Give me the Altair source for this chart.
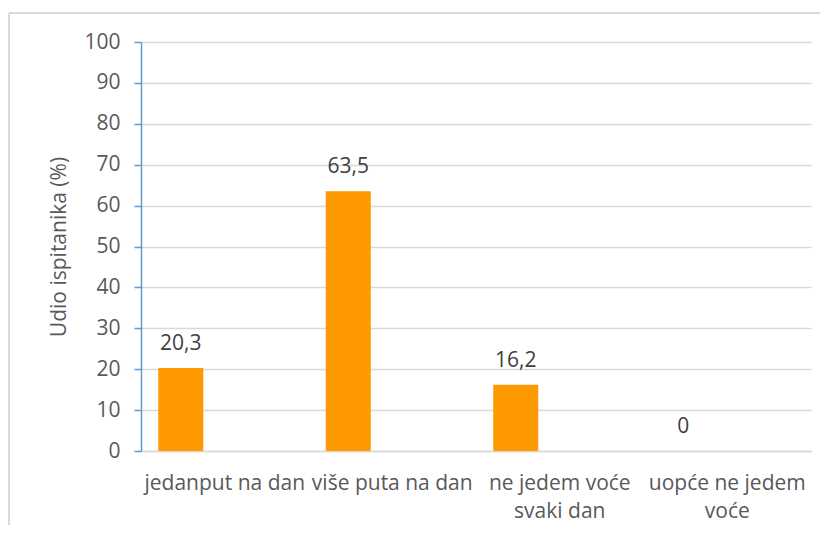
import altair as alt
import pandas as pd

categories = ["jedanput na dan", "više puta na dan", "ne jedem voće|svaki dan", "uopće ne jedem|voće"]
values = [20.3, 63.5, 16.2, 0.0]
y_ticks = [0, 10, 20, 30, 40, 50, 60, 70, 80, 90, 100]

df = pd.DataFrame({
    "kategorija": categories,
    "udio": values,
    "oznaka": [f"{v:g}".replace(".", ",") for v in values],
})

FONT = "Open Sans"
FS = 21
W, H = 670, 409
BAR_OFF = -44

x_enc = alt.X("kategorija:N", sort=categories,
              scale=alt.Scale(paddingInner=0, paddingOuter=0),
              axis=alt.Axis(title=None, labelAngle=0, ticks=False,
                            domain=True, domainColor="#D9D9D9", domainWidth=1.5,
                            labelExpr="split(datum.label, '|')",
                            labelFont=FONT, labelFontSize=FS, labelColor="#595959",
                            labelPadding=21, labelLineHeight=28))
y_enc = alt.Y("udio:Q", scale=alt.Scale(domain=[0, 100], nice=False),
              axis=alt.Axis(values=y_ticks, title="Udio ispitanika (%)",
                            titleFont=FONT, titleFontSize=FS, titleFontWeight="normal",
                            titleColor="#595959", titlePadding=14,
                            labelFont=FONT, labelFontSize=FS, labelColor="#595959",
                            labelPadding=14, tickColor="#5B9BD5", tickSize=7, tickWidth=1.5,
                            domainColor="#5B9BD5", domainWidth=1.5,
                            grid=True, gridColor="#D9D9D9", gridWidth=1.5))

bars = alt.Chart(df).mark_bar(color="#FF9900", width=45, xOffset=BAR_OFF).encode(x=x_enc, y=y_enc)
labels = alt.Chart(df).mark_text(font=FONT, fontSize=FS, color="#404040",
                                 baseline="alphabetic", dy=-18, xOffset=BAR_OFF).encode(
    x=alt.X("kategorija:N", sort=categories),
    y="udio:Q",
    text="oznaka:N",
)

border_top = alt.Chart(df).mark_rule(color="#D9D9D9", strokeWidth=1.5).encode(
    x=alt.value(-132), x2=alt.value(720), y=alt.value(-29))
border_left = alt.Chart(df).mark_rule(color="#D9D9D9", strokeWidth=1.5).encode(
    x=alt.value(-132), y=alt.value(-29), y2=alt.value(560))

chart = alt.layer(border_top, border_left, bars, labels).properties(
    width=W, height=H,
    autosize=alt.AutoSizeParams(type="none"),
    padding={"left": 133, "top": 34, "right": 9, "bottom": 74},
).configure_view(stroke=None)

chart.save("out.html", embed_options={"renderer": "svg", "actions": False})
